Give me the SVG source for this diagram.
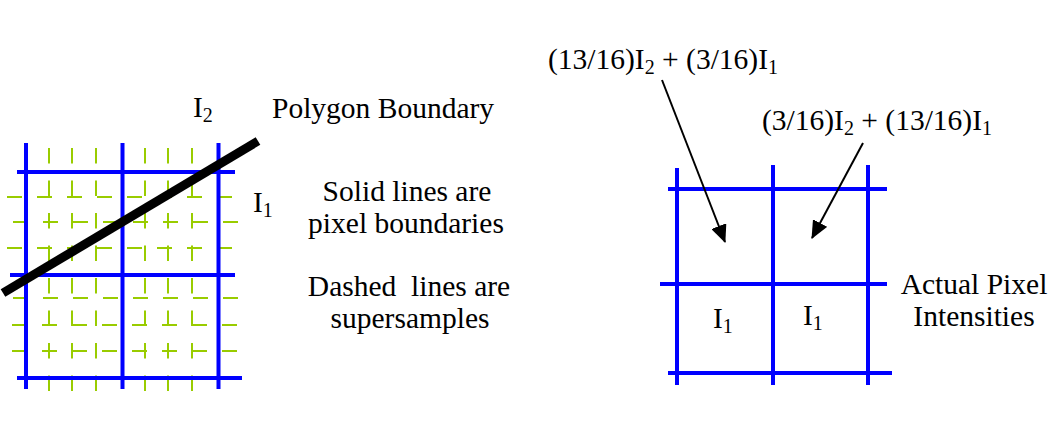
<svg xmlns="http://www.w3.org/2000/svg" width="1055" height="431" viewBox="0 0 1055 431">
<style>
.blue{stroke:#0000ff;stroke-width:4;fill:none}
.v{stroke:#99cc00;stroke-width:2;stroke-dasharray:15.5 17;fill:none}
.h{stroke:#99cc00;stroke-width:2;stroke-dasharray:15 15;fill:none}
.t{font-family:"Liberation Serif","Times New Roman",serif;font-size:29.5px;fill:#000}
.c{text-anchor:middle}
.arr{stroke:#000;stroke-width:2;fill:none;marker-end:url(#ah)}
</style>
<defs>
<marker id="ah" markerUnits="userSpaceOnUse" markerWidth="18" markerHeight="16" viewBox="0 0 18 16" refX="17" refY="8" orient="auto">
<path d="M0,0 L18,8 L0,16 z" fill="#000"/>
</marker>
</defs>
<rect width="1055" height="431" fill="#fff"/>

<g id="supersample-grid">
<line class="v" x1="49" y1="148" x2="49" y2="392"/>
<line class="v" x1="72" y1="148" x2="72" y2="392"/>
<line class="v" x1="96" y1="148" x2="96" y2="392"/>
<line class="v" x1="145" y1="148" x2="145" y2="392"/>
<line class="v" x1="168" y1="148" x2="168" y2="392"/>
<line class="v" x1="192" y1="148" x2="192" y2="392"/>
<line class="h" x1="7" y1="197" x2="238" y2="197"/>
<line class="h" x1="13" y1="222" x2="238" y2="222"/>
<line class="h" x1="7" y1="248" x2="238" y2="248"/>
<line class="h" x1="13" y1="298" x2="238" y2="298"/>
<line class="h" x1="12" y1="325" x2="238" y2="325"/>
<line class="h" x1="12" y1="351" x2="238" y2="351"/>
</g>

<g id="pixel-grid-left">
<line class="blue" x1="26" y1="143" x2="26" y2="389"/>
<line class="blue" x1="122.5" y1="143" x2="122.5" y2="389"/>
<line class="blue" x1="218.5" y1="143" x2="218.5" y2="389"/>
<line class="blue" x1="17" y1="172" x2="235" y2="172"/>
<line class="blue" x1="10" y1="275" x2="235" y2="275"/>
<line class="blue" x1="17" y1="378" x2="242" y2="378"/>
</g>

<g id="polygon-boundary">
<line x1="3" y1="293" x2="258" y2="141" stroke="#000" stroke-width="9"/>
</g>

<g id="left-labels">
<text class="t" x="193" y="117">I<tspan font-size="20" dy="5">2</tspan></text>
<text class="t" x="253" y="212">I<tspan font-size="20" dy="5">1</tspan></text>
<text class="t" x="272" y="118">Polygon Boundary</text>
<text class="t c" y="201"><tspan x="407">Solid lines are</tspan><tspan x="406" dy="32">pixel boundaries</tspan></text>
<text class="t c" y="296" xml:space="preserve"><tspan x="409">Dashed  lines are</tspan><tspan x="410" dy="32">supersamples</tspan></text>
</g>

<g id="pixel-grid-right">
<line class="blue" x1="677" y1="168" x2="677" y2="385"/>
<line class="blue" x1="773" y1="165" x2="773" y2="385"/>
<line class="blue" x1="868" y1="165" x2="868" y2="385"/>
<line class="blue" x1="668" y1="189" x2="887" y2="189"/>
<line class="blue" x1="660" y1="284" x2="887" y2="284"/>
<line class="blue" x1="668" y1="373" x2="892" y2="373"/>
<text class="t" x="713" y="328">I<tspan font-size="20" dy="5">1</tspan></text>
<text class="t" x="803" y="325">I<tspan font-size="20" dy="5">1</tspan></text>
</g>

<g id="right-labels">
<text class="t" x="548" y="69">(13/16)I<tspan font-size="20" dy="5">2</tspan><tspan dy="-5"> + (3/16)I</tspan><tspan font-size="20" dy="5">1</tspan></text>
<text class="t" x="762" y="130">(3/16)I<tspan font-size="20" dy="5">2</tspan><tspan dy="-5"> + (13/16)I</tspan><tspan font-size="20" dy="5">1</tspan></text>
<text class="t c" y="294"><tspan x="974">Actual Pixel</tspan><tspan x="974" dy="32">Intensities</tspan></text>
</g>

<g id="connectors">
<line class="arr" x1="662" y1="80" x2="725" y2="242"/>
<line class="arr" x1="863" y1="143" x2="812" y2="238"/>
</g>
</svg>
